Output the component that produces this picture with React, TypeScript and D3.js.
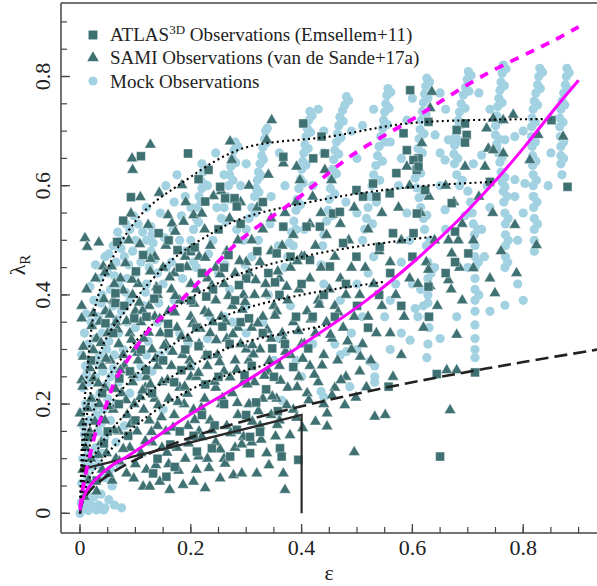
import React from 'react';
import * as d3 from 'd3';

const W = 597;
const H = 586;

const X_TICKS = [0, 0.2, 0.4, 0.6, 0.8];
const X_TICK_LABELS = ['0', '0.2', '0.4', '0.6', '0.8'];
const Y_TICKS = [0, 0.2, 0.4, 0.6, 0.8];
const Y_TICK_LABELS = ['0', '0.2', '0.4', '0.6', '0.8'];
const MINOR_STEP = 0.05;

const LEGEND_LABELS = ['ATLAS', 'SAMI Observations (van de Sande+17a)', 'Mock Observations'];

// ATLAS3D squares [eps, lambda]
const atlas: number[][] = [
  [0.11,0.654],[0.195,0.659],[0.232,0.629],[0.214,0.612],[0.253,0.598],[0.262,0.577],[0.279,0.577],[0.283,0.562],
  [0.092,0.579],[0.226,0.571],[0.067,0.497],[0.101,0.443],[0.064,0.403],[0.064,0.385],[0.132,0.073],[0.156,0.067],
  [0.171,0.085],[0.211,0.113],[0.238,0.119],[0.271,0.104],[0.307,0.11],[0.307,0.14],[0.325,0.149],[0.361,0.119],
  [0.364,0.104],[0.394,0.098],[0.65,0.104],[0.644,0.255],[0.713,0.258],[0.629,0.717],[0.695,0.714],[0.68,0.702],
  [0.698,0.693],[0.695,0.679],[0.851,0.72],[0.88,0.598],[0.611,0.65],[0.74,0.607],[0.557,0.232],
  [0.596,0.775],[0.403,0.714],[0.436,0.69],[0.367,0.653],[0.442,0.659],[0.584,0.696],[0.59,0.665],[0.529,0.604],
  [0.535,0.58],[0.421,0.65],[0.559,0.586],[0.571,0.623],[0.602,0.647],[0.608,0.629],[0.499,0.592],[0.511,0.58],
  [0.457,0.549],[0.469,0.552],[0.409,0.525],[0.433,0.525],[0.367,0.525],[0.565,0.513],[0.541,0.488],[0.499,0.47],
  [0.475,0.495],[0.415,0.464],[0.451,0.452],[0.355,0.476],[0.608,0.549],[0.602,0.513],
  [0.677,0.516],[0.701,0.476],[0.677,0.46],[0.629,0.415],[0.611,0.635],[0.623,0.592],[0.671,0.568],
  [0.03,0.06],[0.05,0.15],[0.07,0.2],[0.09,0.26],[0.11,0.3],[0.13,0.22],[0.15,0.28],[0.17,0.24],[0.19,0.3],
  [0.21,0.34],[0.23,0.29],[0.25,0.25],[0.27,0.31],[0.29,0.35],[0.31,0.27],[0.33,0.33],[0.35,0.25],[0.37,0.31],
  [0.39,0.36],[0.12,0.36],[0.14,0.41],[0.16,0.33],[0.18,0.45],[0.2,0.39],[0.22,0.44],[0.24,0.41],[0.26,0.45],
  [0.28,0.39],[0.3,0.43],[0.32,0.48],[0.34,0.44],[0.36,0.4],[0.38,0.47],[0.4,0.42],[0.42,0.36],[0.44,0.4],
  [0.46,0.36],[0.48,0.42],[0.5,0.38],[0.52,0.34],[0.54,0.4],[0.56,0.44],[0.58,0.38],[0.1,0.17],[0.14,0.1],
  [0.18,0.15],[0.22,0.18],[0.26,0.2],[0.3,0.18],[0.06,0.33],[0.08,0.38],[0.04,0.22],[0.02,0.28],[0.16,0.5],
  [0.2,0.48],[0.25,0.52],[0.29,0.53],[0.33,0.57],[0.015,0.14],[0.63,0.36],[0.66,0.44],[0.6,0.47],
  [0.043,0.128],[0.087,0.142],[0.163,0.126],[0.205,0.142],[0.243,0.161],[0.283,0.153],[0.318,0.203],[0.357,0.187],
  [0.071,0.247],[0.119,0.262],[0.183,0.262],[0.226,0.236],[0.297,0.253],[0.336,0.227],[0.385,0.268],[0.046,0.348],
  [0.098,0.357],[0.159,0.347],[0.214,0.306],[0.257,0.342],[0.305,0.357],[0.347,0.302],[0.412,0.302],[0.134,0.393],
  [0.228,0.397],[0.287,0.418],[0.352,0.423],[0.114,0.473],[0.207,0.487],[0.268,0.473],[0.078,0.536],[0.142,0.513],
  [0.176,0.482],
];

// SAMI triangles [eps, lambda]
const sami: number[][] = [
  [0.003,0.38],[0.009,0.504],[0.013,0.488],[0.034,0.496],[0.042,0.452],[0.045,0.441],[0.003,0.357],[0.024,0.366],
  [0.036,0.351],[0.006,0.305],[0.006,0.287],[0.024,0.299],[0.003,0.244],[0.005,0.232],[0.024,0.247],[0.0,0.183],
  [0.004,0.165],[0.018,0.149],[0.01,0.12],[0.02,0.1],[0.005,0.08],[0.015,0.06],[0.03,0.04],[0.008,0.03],[0.035,0.2],
  [0.04,0.27],[0.03,0.32],[0.045,0.23],[0.02,0.21],[0.012,0.41],[0.038,0.13],[0.045,0.17],[0.028,0.43],[0.046,0.37],
  [0.05,0.33],[0.04,0.08],[0.048,0.11],
  [0.073,0.43],[0.082,0.458],[0.092,0.549],[0.094,0.65],[0.095,0.629],[0.109,0.579],[0.06,0.39],[0.065,0.35],
  [0.07,0.31],[0.055,0.28],[0.08,0.27],[0.09,0.33],[0.075,0.22],[0.06,0.19],[0.085,0.18],[0.095,0.24],[0.07,0.15],
  [0.09,0.12],[0.065,0.1],[0.084,0.073],[0.1,0.09],[0.058,0.06],[0.095,0.4],[0.1,0.37],[0.088,0.5],[0.078,0.29],
  [0.098,0.2],[0.062,0.42],[0.1,0.3],
  [0.108,0.493],[0.123,0.528],[0.127,0.675],[0.127,0.443],[0.143,0.587],[0.114,0.049],[0.126,0.049],[0.144,0.058],
  [0.11,0.11],[0.12,0.08],[0.13,0.13],[0.14,0.16],[0.115,0.19],[0.135,0.21],[0.148,0.24],[0.12,0.25],[0.105,0.28],
  [0.13,0.3],[0.145,0.33],[0.11,0.35],[0.125,0.38],[0.14,0.4],[0.105,0.42],[0.15,0.45],[0.135,0.47],[0.115,0.32],
  [0.14,0.27],[0.125,0.17],[0.148,0.12],[0.118,0.23],[0.135,0.36],[0.103,0.15],
  [0.159,0.546],[0.166,0.531],[0.172,0.516],[0.187,0.534],[0.184,0.601],[0.191,0.57],[0.162,0.043],[0.186,0.052],
  [0.16,0.09],[0.175,0.12],[0.19,0.1],[0.155,0.15],[0.17,0.18],[0.195,0.16],[0.16,0.21],[0.18,0.23],[0.2,0.25],
  [0.165,0.27],[0.185,0.29],[0.155,0.31],[0.175,0.34],[0.195,0.32],[0.16,0.37],[0.18,0.39],[0.2,0.42],[0.17,0.44],
  [0.19,0.47],[0.155,0.49],[0.2,0.36],[0.165,0.41],[0.188,0.2],[0.198,0.28],
  [0.205,0.546],[0.22,0.549],[0.241,0.581],[0.205,0.058],[0.226,0.046],[0.21,0.08],[0.23,0.1],[0.245,0.13],
  [0.215,0.15],[0.235,0.17],[0.205,0.19],[0.225,0.21],[0.245,0.23],[0.21,0.25],[0.23,0.27],[0.248,0.29],[0.215,0.31],
  [0.235,0.33],[0.205,0.35],[0.225,0.37],[0.245,0.39],[0.21,0.41],[0.23,0.43],[0.245,0.45],[0.215,0.47],[0.235,0.49],
  [0.225,0.52],[0.24,0.35],[0.22,0.14],
  [0.271,0.681],[0.274,0.647],[0.253,0.064],[0.277,0.07],[0.292,0.073],[0.26,0.1],[0.28,0.12],[0.295,0.14],
  [0.265,0.16],[0.285,0.18],[0.255,0.2],[0.275,0.22],[0.295,0.24],[0.26,0.26],[0.28,0.28],[0.3,0.3],[0.265,0.32],
  [0.285,0.34],[0.255,0.36],[0.275,0.38],[0.295,0.4],[0.26,0.42],[0.28,0.44],[0.3,0.46],[0.265,0.48],[0.285,0.5],
  [0.27,0.54],[0.29,0.57],[0.255,0.59],[0.29,0.31],
  [0.319,0.073],[0.337,0.11],[0.346,0.72],[0.337,0.684],[0.31,0.13],[0.325,0.16],[0.345,0.18],[0.305,0.2],
  [0.33,0.21],[0.315,0.24],[0.34,0.26],[0.305,0.28],[0.325,0.3],[0.345,0.32],[0.31,0.34],[0.33,0.36],[0.35,0.38],
  [0.315,0.4],[0.335,0.42],[0.305,0.44],[0.325,0.46],[0.345,0.48],[0.31,0.5],[0.33,0.52],[0.345,0.54],[0.32,0.56],
  [0.305,0.6],[0.34,0.62],
  [0.379,0.143],[0.367,0.073],[0.37,0.043],[0.367,0.641],[0.391,0.635],[0.397,0.61],[0.36,0.17],[0.385,0.19],
  [0.355,0.21],[0.375,0.23],[0.395,0.25],[0.36,0.27],[0.38,0.29],[0.4,0.31],[0.365,0.33],[0.385,0.35],[0.355,0.37],
  [0.375,0.39],[0.395,0.41],[0.36,0.43],[0.38,0.45],[0.4,0.47],[0.365,0.49],[0.385,0.51],[0.37,0.55],[0.39,0.57],
  [0.446,0.183],[0.446,0.159],[0.442,0.629],[0.41,0.22],[0.43,0.24],[0.415,0.27],[0.44,0.29],[0.405,0.31],
  [0.425,0.33],[0.445,0.35],[0.41,0.37],[0.43,0.39],[0.45,0.41],[0.415,0.43],[0.435,0.45],[0.405,0.47],[0.425,0.49],
  [0.445,0.51],[0.415,0.53],[0.435,0.55],[0.42,0.58],[0.44,0.2],
  [0.454,0.61],[0.478,0.198],[0.495,0.112],[0.46,0.23],[0.48,0.25],[0.465,0.28],[0.49,0.3],[0.455,0.32],
  [0.475,0.34],[0.495,0.36],[0.46,0.38],[0.48,0.4],[0.47,0.43],[0.49,0.45],[0.46,0.47],[0.485,0.5],[0.47,0.53],
  [0.495,0.56],
  [0.517,0.231],[0.532,0.177],[0.505,0.26],[0.525,0.28],[0.51,0.31],[0.535,0.33],[0.52,0.36],[0.545,0.38],
  [0.505,0.4],[0.53,0.42],[0.515,0.45],[0.54,0.48],[0.52,0.52],[0.545,0.55],
  [0.551,0.18],[0.59,0.635],[0.565,0.25],[0.58,0.29],[0.56,0.33],[0.585,0.36],[0.57,0.4],[0.595,0.43],[0.56,0.46],
  [0.58,0.5],[0.575,0.56],[0.595,0.6],
  [0.617,0.678],[0.632,0.742],[0.635,0.772],[0.662,0.262],[0.61,0.42],[0.625,0.46],[0.64,0.5],[0.615,0.55],
  [0.63,0.58],[0.645,0.38],[0.62,0.34],
  [0.68,0.327],[0.68,0.262],[0.668,0.189],[0.695,0.635],[0.66,0.6],[0.675,0.57],[0.69,0.53],[0.665,0.5],
  [0.685,0.45],[0.67,0.41],[0.69,0.39],
  [0.734,0.705],[0.746,0.723],[0.764,0.72],[0.782,0.73],[0.737,0.668],[0.746,0.665],[0.764,0.659],[0.731,0.635],
  [0.72,0.58],[0.745,0.55],[0.71,0.5],[0.76,0.48],[0.74,0.43],[0.749,0.403],[0.71,0.449],[0.665,0.427],
  [0.629,0.446],[0.632,0.416],[0.671,0.476],[0.683,0.5],
  [0.812,0.647],[0.872,0.69],[0.827,0.693],[0.785,0.528],[0.824,0.491],[0.788,0.44],
  [0.052,0.072],[0.097,0.064],[0.137,0.088],[0.178,0.078],[0.233,0.083],[0.262,0.091],[0.341,0.088],[0.071,0.095],
  [0.033,0.107],[0.078,0.118],[0.118,0.132],[0.157,0.111],[0.196,0.128],[0.253,0.117],[0.292,0.126],[0.327,0.135],
  [0.353,0.141],[0.402,0.156],[0.214,0.104],
  [0.027,0.168],[0.062,0.152],[0.091,0.163],[0.129,0.149],[0.168,0.157],[0.207,0.171],[0.238,0.152],[0.272,0.147],
  [0.311,0.168],[0.356,0.162],[0.391,0.175],[0.425,0.168],[0.147,0.176],
  [0.014,0.192],[0.051,0.196],[0.083,0.207],[0.109,0.213],[0.141,0.198],[0.177,0.204],[0.219,0.193],[0.257,0.211],
  [0.284,0.202],[0.322,0.187],[0.347,0.214],[0.373,0.198],[0.413,0.207],[0.455,0.216],[0.498,0.212],[0.194,0.219],
  [0.033,0.238],[0.064,0.228],[0.096,0.253],[0.127,0.236],[0.158,0.244],[0.189,0.232],[0.214,0.257],[0.243,0.241],
  [0.271,0.249],[0.302,0.236],[0.333,0.252],[0.362,0.243],[0.392,0.231],[0.423,0.254],[0.471,0.244],[0.113,0.225],
  [0.018,0.266],[0.047,0.283],[0.073,0.262],[0.104,0.294],[0.136,0.283],[0.167,0.296],[0.198,0.268],[0.227,0.289],
  [0.252,0.277],[0.283,0.263],[0.313,0.291],[0.342,0.279],[0.371,0.296],[0.402,0.283],[0.437,0.271],[0.506,0.287],
  [0.038,0.312],[0.068,0.337],[0.093,0.318],[0.124,0.331],[0.152,0.307],[0.183,0.324],[0.217,0.338],[0.246,0.317],
  [0.276,0.328],[0.311,0.308],[0.338,0.336],[0.368,0.318],[0.394,0.334],[0.452,0.327],[0.483,0.315],
  [0.021,0.343],[0.054,0.364],[0.084,0.352],[0.113,0.371],[0.144,0.356],[0.171,0.368],[0.203,0.347],[0.232,0.366],
  [0.263,0.351],[0.293,0.373],[0.321,0.348],[0.352,0.362],[0.417,0.355],[0.466,0.368],
  [0.043,0.392],[0.078,0.408],[0.107,0.386],[0.138,0.414],[0.172,0.398],[0.206,0.384],[0.238,0.417],[0.268,0.398],
  [0.298,0.387],[0.336,0.402],[0.373,0.415],[0.432,0.382],
  [0.057,0.452],[0.094,0.428],[0.127,0.466],[0.162,0.432],[0.193,0.451],[0.226,0.468],[0.253,0.438],[0.288,0.462],
  [0.317,0.427],[0.357,0.443],[0.392,0.462],
];

// Mock observations (circles) [eps, lambda]
const mock: number[][] = [
  [0.0,0.0],[0.005,0.01],[0.01,0.02],[0.015,0.005],[0.02,0.015],[0.03,0.006],[0.043,0.006],[0.034,0.015],
  [0.045,0.01],[0.025,0.03],[0.008,0.04],[0.018,0.05],[0.03,0.06],[0.012,0.07],[0.022,0.085],[0.035,0.09],
  [0.005,0.1],[0.015,0.11],[0.028,0.12],[0.04,0.11],[0.01,0.13],[0.02,0.14],[0.033,0.15],[0.045,0.14],[0.006,0.16],
  [0.017,0.17],[0.03,0.18],[0.042,0.19],[0.055,0.17],[0.01,0.2],[0.022,0.21],[0.036,0.22],[0.05,0.21],[0.065,0.2],
  [0.005,0.23],[0.016,0.24],[0.028,0.25],[0.041,0.26],[0.055,0.25],[0.07,0.24],[0.01,0.27],[0.022,0.28],[0.035,0.29],
  [0.048,0.3],[0.062,0.29],[0.078,0.3],[0.015,0.31],[0.028,0.32],[0.04,0.33],[0.055,0.34],[0.07,0.33],[0.085,0.35],
  [0.02,0.35],[0.033,0.36],[0.047,0.37],[0.06,0.38],[0.075,0.37],[0.09,0.39],[0.025,0.39],[0.04,0.4],[0.055,0.41],
  [0.07,0.42],[0.085,0.43],[0.1,0.44],[0.035,0.43],[0.05,0.44],[0.065,0.46],[0.08,0.47],[0.095,0.48],[0.11,0.46],
  [0.045,0.47],[0.06,0.49],[0.075,0.5],[0.09,0.52],[0.105,0.53],[0.12,0.5],[0.1,0.34],[0.115,0.38],[0.12,0.29],
  [0.105,0.25],[0.09,0.22],[0.08,0.16],[0.065,0.13],[0.07,0.09],[0.055,0.08],[0.15,0.42],[0.165,0.46],[0.18,0.5],
  [0.2,0.56],[0.17,0.57],[0.145,0.55],[0.155,0.6],[0.175,0.62],[0.19,0.58],[0.21,0.45],[0.14,0.35],[0.13,0.26],
  [0.15,0.19],[0.18,0.33],[0.24,0.5],[0.23,0.6],[0.26,0.62],[0.29,0.6],[0.3,0.64],[0.245,0.66],
  [0.003,0.055],[0.012,0.095],[0.027,0.105],[0.008,0.145],[0.038,0.165],[0.002,0.185],[0.026,0.195],[0.047,0.235],
  [0.012,0.255],[0.06,0.265],[0.032,0.275],[0.003,0.29],[0.052,0.315],[0.008,0.33],[0.023,0.345],[0.066,0.355],
  [0.011,0.365],[0.038,0.385],[0.082,0.405],[0.018,0.415],[0.062,0.435],[0.028,0.455],[0.088,0.455],[0.052,0.475],
  [0.074,0.485],[0.1,0.5],[0.113,0.515],[0.083,0.53],[0.097,0.545],[0.12,0.56],[0.068,0.515],[0.013,0.035],
  [0.052,0.025],[0.062,0.015],[0.075,0.01],[0.038,0.035],[0.058,0.05],[0.045,0.065],[0.016,0.025],[0.002,0.02],
  [0.118,0.405],[0.142,0.385],[0.156,0.45],[0.185,0.43],[0.205,0.46],[0.168,0.52],[0.183,0.545],[0.152,0.505],
  [0.232,0.475],[0.247,0.56],[0.262,0.455],[0.283,0.52],[0.298,0.455],[0.322,0.5],[0.343,0.53],[0.358,0.49],
  [0.123,0.315],[0.145,0.29],[0.11,0.27],[0.195,0.31],[0.235,0.36],[0.275,0.35],[0.3,0.33],[0.34,0.4],[0.38,0.38],
  [0.42,0.31],[0.39,0.28],[0.47,0.29],[0.5,0.3],[0.51,0.36],[0.56,0.39],[0.6,0.42],[0.595,0.5],[0.59,0.55],
  [0.575,0.6],[0.58,0.65],[0.56,0.68],[0.5,0.65],[0.49,0.7],[0.42,0.6],[0.44,0.66],[0.36,0.66],[0.37,0.6],
  [0.345,0.58],[0.405,0.52],[0.48,0.57],[0.5,0.55],[0.65,0.6],[0.66,0.52],[0.64,0.45],[0.7,0.45],[0.735,0.6],
  [0.73,0.47],[0.79,0.5],[0.8,0.55],[0.845,0.6],[0.85,0.66],[0.8,0.7],[0.74,0.74],[0.72,0.77],[0.66,0.74],
  [0.65,0.77],[0.59,0.72],[0.6,0.76],[0.53,0.74],[0.51,0.71],[0.44,0.7],[0.43,0.74],
  [0.128,0.525],[0.13,0.51],[0.132,0.495],[0.128,0.48],[0.135,0.465],[0.125,0.45],[0.14,0.44],[0.12,0.42],
  [0.22,0.64],[0.222,0.625],[0.218,0.61],[0.22,0.595],[0.215,0.58],[0.212,0.56],[0.21,0.54],[0.205,0.52],[0.2,0.5],
  [0.227,0.632],[0.224,0.603],[0.219,0.571],[0.214,0.533],
  [0.28,0.68],[0.278,0.665],[0.275,0.65],[0.272,0.635],[0.27,0.62],[0.268,0.6],[0.265,0.58],[0.26,0.56],[0.255,0.54],[0.25,0.52],
  [0.285,0.672],[0.281,0.642],[0.276,0.61],[0.271,0.575],[0.263,0.535],
  [0.335,0.7],[0.333,0.685],[0.33,0.67],[0.328,0.655],[0.325,0.64],[0.322,0.625],[0.32,0.61],[0.318,0.595],
  [0.315,0.58],[0.31,0.56],[0.305,0.54],[0.3,0.52],[0.295,0.5],[0.31,0.47],
  [0.338,0.705],[0.336,0.678],[0.331,0.648],[0.327,0.618],[0.323,0.588],[0.316,0.55],
  [0.415,0.736],[0.413,0.72],[0.41,0.705],[0.408,0.69],[0.406,0.675],[0.404,0.66],[0.402,0.645],[0.4,0.63],
  [0.398,0.612],[0.395,0.595],[0.392,0.575],[0.39,0.555],[0.386,0.535],[0.382,0.515],[0.378,0.495],[0.375,0.47],[0.37,0.45],
  [0.419,0.728],[0.416,0.698],[0.412,0.668],[0.408,0.638],[0.403,0.605],[0.398,0.565],[0.39,0.52],[0.385,0.49],
  [0.481,0.763],[0.478,0.748],[0.474,0.738],[0.469,0.726],[0.467,0.71],[0.465,0.695],[0.463,0.68],[0.46,0.665],
  [0.458,0.648],[0.456,0.63],[0.454,0.612],[0.452,0.595],[0.45,0.575],[0.448,0.555],[0.445,0.535],[0.44,0.51],
  [0.438,0.49],[0.435,0.455],[0.44,0.42],
  [0.485,0.756],[0.475,0.718],[0.471,0.688],[0.467,0.658],[0.463,0.622],[0.46,0.585],[0.455,0.545],
  [0.556,0.778],[0.554,0.765],[0.552,0.75],[0.55,0.735],[0.548,0.72],[0.546,0.705],[0.543,0.69],[0.54,0.672],
  [0.537,0.655],[0.534,0.637],[0.53,0.62],[0.527,0.6],[0.524,0.58],[0.52,0.56],[0.517,0.54],[0.514,0.52],[0.51,0.5],
  [0.53,0.47],[0.52,0.44],[0.523,0.278],[0.532,0.27],[0.532,0.25],[0.532,0.24],[0.481,0.296],[0.487,0.232],
  [0.561,0.771],[0.558,0.742],[0.555,0.712],[0.551,0.68],[0.546,0.645],[0.541,0.61],[0.535,0.57],[0.528,0.53],
  [0.626,0.797],[0.624,0.782],[0.622,0.768],[0.62,0.752],[0.618,0.736],[0.616,0.72],[0.614,0.703],[0.612,0.686],
  [0.61,0.668],[0.608,0.65],[0.606,0.632],[0.605,0.614],[0.608,0.596],[0.612,0.578],[0.615,0.56],[0.62,0.54],
  [0.622,0.52],[0.625,0.49],[0.628,0.46],[0.628,0.43],[0.628,0.4],[0.628,0.385],[0.628,0.36],[0.63,0.34],[0.628,0.31],
  [0.626,0.285],[0.62,0.38],[0.615,0.41],[0.605,0.375],[0.61,0.36],
  [0.631,0.79],[0.628,0.76],[0.625,0.73],[0.621,0.695],[0.618,0.66],[0.615,0.623],[0.62,0.585],[0.632,0.5],[0.634,0.44],
  [0.701,0.809],[0.699,0.795],[0.696,0.78],[0.692,0.766],[0.688,0.75],[0.685,0.735],[0.683,0.72],[0.68,0.705],
  [0.678,0.69],[0.676,0.674],[0.675,0.658],[0.676,0.64],[0.68,0.62],[0.685,0.6],[0.7,0.59],[0.705,0.57],[0.708,0.55],
  [0.71,0.53],[0.712,0.51],[0.713,0.49],[0.713,0.47],[0.713,0.45],[0.713,0.43],[0.713,0.41],[0.713,0.39],
  [0.713,0.37],[0.713,0.345],[0.713,0.32],[0.713,0.3],[0.713,0.285],
  [0.706,0.802],[0.702,0.773],[0.695,0.742],[0.69,0.712],[0.685,0.682],[0.682,0.65],[0.69,0.61],[0.718,0.52],[0.719,0.46],[0.72,0.4],
  [0.764,0.821],[0.762,0.806],[0.76,0.79],[0.758,0.775],[0.756,0.76],[0.754,0.745],[0.752,0.728],[0.75,0.71],
  [0.75,0.693],[0.752,0.676],[0.755,0.66],[0.758,0.643],[0.76,0.625],[0.762,0.607],[0.764,0.59],[0.765,0.57],
  [0.767,0.55],[0.768,0.53],[0.768,0.51],[0.768,0.49],[0.768,0.47],[0.767,0.45],[0.767,0.381],
  [0.769,0.814],[0.766,0.783],[0.762,0.752],[0.758,0.72],[0.757,0.685],[0.762,0.652],[0.767,0.615],[0.771,0.58],[0.773,0.54],[0.773,0.5],[0.772,0.46],
  [0.83,0.815],[0.828,0.8],[0.826,0.785],[0.823,0.77],[0.82,0.755],[0.818,0.74],[0.816,0.724],[0.815,0.708],
  [0.815,0.69],[0.816,0.672],[0.817,0.655],[0.817,0.637],[0.818,0.62],[0.818,0.6],[0.819,0.58],[0.819,0.56],
  [0.82,0.54],[0.82,0.52],[0.82,0.5],[0.82,0.48],
  [0.835,0.808],[0.831,0.778],[0.826,0.748],[0.822,0.716],[0.822,0.68],[0.823,0.645],[0.824,0.61],[0.825,0.57],[0.826,0.53],
  [0.879,0.815],[0.878,0.8],[0.876,0.785],[0.873,0.77],[0.87,0.755],[0.868,0.74],[0.866,0.724],[0.866,0.708],
  [0.867,0.69],[0.868,0.672],[0.868,0.655],[0.868,0.64],
  [0.883,0.807],[0.88,0.777],[0.875,0.748],[0.872,0.716],[0.873,0.68],[0.873,0.65],[0.87,0.62],
  [0.641,0.693],[0.665,0.684],[0.65,0.66],[0.659,0.647],[0.71,0.64],[0.725,0.656],[0.752,0.671],[0.767,0.684],
  [0.785,0.69],[0.785,0.611],[0.767,0.598],[0.785,0.58],[0.803,0.604],[0.818,0.58],[0.74,0.56],[0.725,0.52],
  [0.695,0.545],[0.659,0.556],[0.626,0.546],[0.8,0.39],[0.79,0.42],[0.74,0.37],[0.68,0.36],[0.65,0.32],[0.56,0.3],
  [0.58,0.33],[0.596,0.317],[0.55,0.36],[0.49,0.33],[0.46,0.31],[0.435,0.223],[0.44,0.213],[0.364,0.207],[0.4,0.25],
  [0.35,0.28],[0.57,0.42],[0.58,0.46],[0.5,0.42],[0.47,0.39],[0.36,0.32],[0.33,0.35],[0.3,0.38],[0.27,0.41],
  [0.25,0.44],[0.19,0.48],[0.17,0.39],[0.16,0.3],[0.2,0.27],[0.23,0.32],[0.26,0.36],
];

// Reference curves
const magentaSolid: number[][] = [
  [0,0.005],[0.003,0.02],[0.013,0.043],[0.027,0.061],[0.058,0.088],[0.088,0.106],[0.148,0.147],[0.208,0.187],
  [0.29,0.236],[0.403,0.31],[0.517,0.39],[0.605,0.463],[0.68,0.534],[0.749,0.608],[0.803,0.672],[0.857,0.741],[0.9,0.793],
];
const magentaDashed: number[][] = [
  [0,0.01],[0.003,0.03],[0.008,0.061],[0.016,0.098],[0.028,0.147],[0.046,0.195],[0.064,0.244],[0.094,0.293],
  [0.13,0.342],[0.175,0.383],[0.23,0.44],[0.289,0.5],[0.397,0.58],[0.487,0.653],[0.602,0.723],[0.725,0.8],[0.857,0.867],[0.9,0.891],
];
const blackDashed: number[][] = [
  [0,0],[0.005,0.022],[0.02,0.044],[0.05,0.069],[0.1,0.098],[0.2,0.139],[0.3,0.17],[0.4,0.196],[0.5,0.219],
  [0.6,0.24],[0.7,0.259],[0.8,0.277],[0.935,0.3],
];
const slowRotatorBox: number[][] = [[0,0.08],[0.4,0.18],[0.4,0]];

const tracks: number[][][] = [
  [[0,0],[0.002,0.08],[0.005,0.15],[0.012,0.25],[0.028,0.38],[0.06,0.47],[0.112,0.549],[0.178,0.601],[0.29,0.667],[0.451,0.69],[0.601,0.715],[0.851,0.722]],
  [[0,0],[0.003,0.08],[0.01,0.16],[0.025,0.25],[0.046,0.318],[0.088,0.378],[0.166,0.464],[0.238,0.513],[0.292,0.54],[0.451,0.577],[0.601,0.598],[0.749,0.607]],
  [[0,0],[0.005,0.08],[0.015,0.15],[0.04,0.23],[0.08,0.29],[0.13,0.345],[0.184,0.385],[0.292,0.44],[0.45,0.48],[0.641,0.507]],
  [[0,0],[0.008,0.08],[0.03,0.16],[0.07,0.22],[0.13,0.28],[0.2,0.33],[0.289,0.372],[0.4,0.4],[0.529,0.421],[0.55,0.424]],
  [[0,0],[0.01,0.07],[0.04,0.13],[0.09,0.19],[0.15,0.24],[0.22,0.28],[0.289,0.311],[0.37,0.33],[0.451,0.345]],
  [[0,0],[0.015,0.06],[0.05,0.11],[0.1,0.16],[0.17,0.21],[0.24,0.245],[0.289,0.259],[0.366,0.281]],
];

const DARK = '#3f7173';
const LIGHT = '#a2d2e2';
const MAGENTA = '#ff00ff';
const SERIF = '"Liberation Serif", "DejaVu Serif", serif';

export default function App() {
  const x = d3.scaleLinear().domain([0, 0.8]).range([80, 523.2]);
  const y = d3.scaleLinear().domain([0, 0.8]).range([513.3, 76.5]);
  const L = 61, R = 597, T = 3, B = 533;

  const smooth = d3.line<number[]>().x(d => x(d[0])).y(d => y(d[1])).curve(d3.curveCatmullRom.alpha(0.5));
  const polyline = d3.line<number[]>().x(d => x(d[0])).y(d => y(d[1]));

  const sq = d3.symbol(d3.symbolSquare, 80)()!;
  const tri = d3.symbol(d3.symbolTriangle, 58)()!;

  const minorX = d3.range(0, 0.93, MINOR_STEP);
  const minorY = d3.range(0, 0.93, MINOR_STEP);

  return (
    <svg width={W} height={H} style={{ position: 'absolute', left: 0, top: 0, background: '#fff' }}>
      <rect x={0} y={0} width={W} height={H} fill="#fff" />
      <defs>
        <clipPath id="plotClip"><rect x={L} y={T} width={R - L + 5} height={B - T} /></clipPath>
      </defs>
      <g clipPath="url(#plotClip)">
        {mock.map((d, i) => (
          <circle key={'m' + i} cx={x(d[0])} cy={y(d[1])} r={4.6} fill={LIGHT} />
        ))}
        {sami.map((d, i) => (
          <path key={'s' + i} d={tri} transform={`translate(${x(d[0])},${y(d[1])})`} fill={DARK} stroke="#fff" strokeWidth={0.4} />
        ))}
        {atlas.map((d, i) => (
          <path key={'a' + i} d={sq} transform={`translate(${x(d[0])},${y(d[1])})`} fill={DARK} stroke="#fff" strokeWidth={0.4} />
        ))}
        {tracks.map((t, i) => (
          <path key={'t' + i} d={smooth(t)!} fill="none" stroke="#000" strokeWidth={2.1} strokeDasharray="2,3.2" />
        ))}
        <path d={smooth(blackDashed)!} fill="none" stroke="#222" strokeWidth={2.6} strokeDasharray="13,6" />
        <path d={polyline(slowRotatorBox)!} fill="none" stroke="#2a2a2a" strokeWidth={2.2} />
        <path d={smooth(magentaDashed)!} fill="none" stroke={MAGENTA} strokeWidth={3.8} strokeDasharray="9,8" />
        <path d={smooth(magentaSolid)!} fill="none" stroke={MAGENTA} strokeWidth={3} />
      </g>

      <line x1={L} y1={T} x2={R} y2={T} stroke="#444" strokeWidth={1.5} />
      <line x1={L} y1={B} x2={R} y2={B} stroke="#444" strokeWidth={1.5} />
      <line x1={L} y1={T} x2={L} y2={B} stroke="#444" strokeWidth={1.5} />

      {minorX.map((v, i) => (
        <line key={'mx' + i} x1={x(v)} x2={x(v)} y1={B} y2={B - 6} stroke="#444" strokeWidth={1.2} />
      ))}
      {X_TICKS.map((v, i) => (
        <line key={'Mx' + i} x1={x(v)} x2={x(v)} y1={B} y2={B - 9} stroke="#444" strokeWidth={1.3} />
      ))}
      {minorY.map((v, i) => (
        <line key={'my' + i} x1={L} x2={L + 6} y1={y(v)} y2={y(v)} stroke="#444" strokeWidth={1.2} />
      ))}
      {Y_TICKS.map((v, i) => (
        <line key={'My' + i} x1={L} x2={L + 9} y1={y(v)} y2={y(v)} stroke="#444" strokeWidth={1.3} />
      ))}

      {X_TICKS.map((v, i) => (
        <text key={'xl' + i} x={x(v)} y={555} textAnchor="middle" fontFamily={SERIF} fontSize={22} fill="#222">
          {X_TICK_LABELS[i]}
        </text>
      ))}
      {Y_TICKS.map((v, i) => (
        <text key={'yl' + i} transform={`translate(50,${y(v)}) rotate(-90)`} textAnchor="middle" fontFamily={SERIF} fontSize={22} fill="#222">
          {Y_TICK_LABELS[i]}
        </text>
      ))}

      <text x={329} y={580} textAnchor="middle" fontFamily={SERIF} fontSize={22} fill="#222">ε</text>
      <text transform={`translate(25,265) rotate(-90)`} textAnchor="middle" fontFamily={SERIF} fontSize={22} fill="#222">
        λ<tspan fontSize={15} dy={5}>R</tspan>
      </text>

      <path d={sq} transform="translate(93,35)" fill={DARK} />
      <path d={tri} transform="translate(93,58)" fill={DARK} />
      <circle cx={93} cy={81} r={4.6} fill={LIGHT} />
      <text x={110} y={41} fontFamily={SERIF} fontSize={19} fill="#222">
        {LEGEND_LABELS[0]}<tspan fontSize={13} dy={-7}>3D</tspan><tspan dy={7}> Observations (Emsellem+11)</tspan>
      </text>
      <text x={110} y={64} fontFamily={SERIF} fontSize={19} fill="#222">{LEGEND_LABELS[1]}</text>
      <text x={110} y={88} fontFamily={SERIF} fontSize={19} fill="#222">{LEGEND_LABELS[2]}</text>
    </svg>
  );
}
